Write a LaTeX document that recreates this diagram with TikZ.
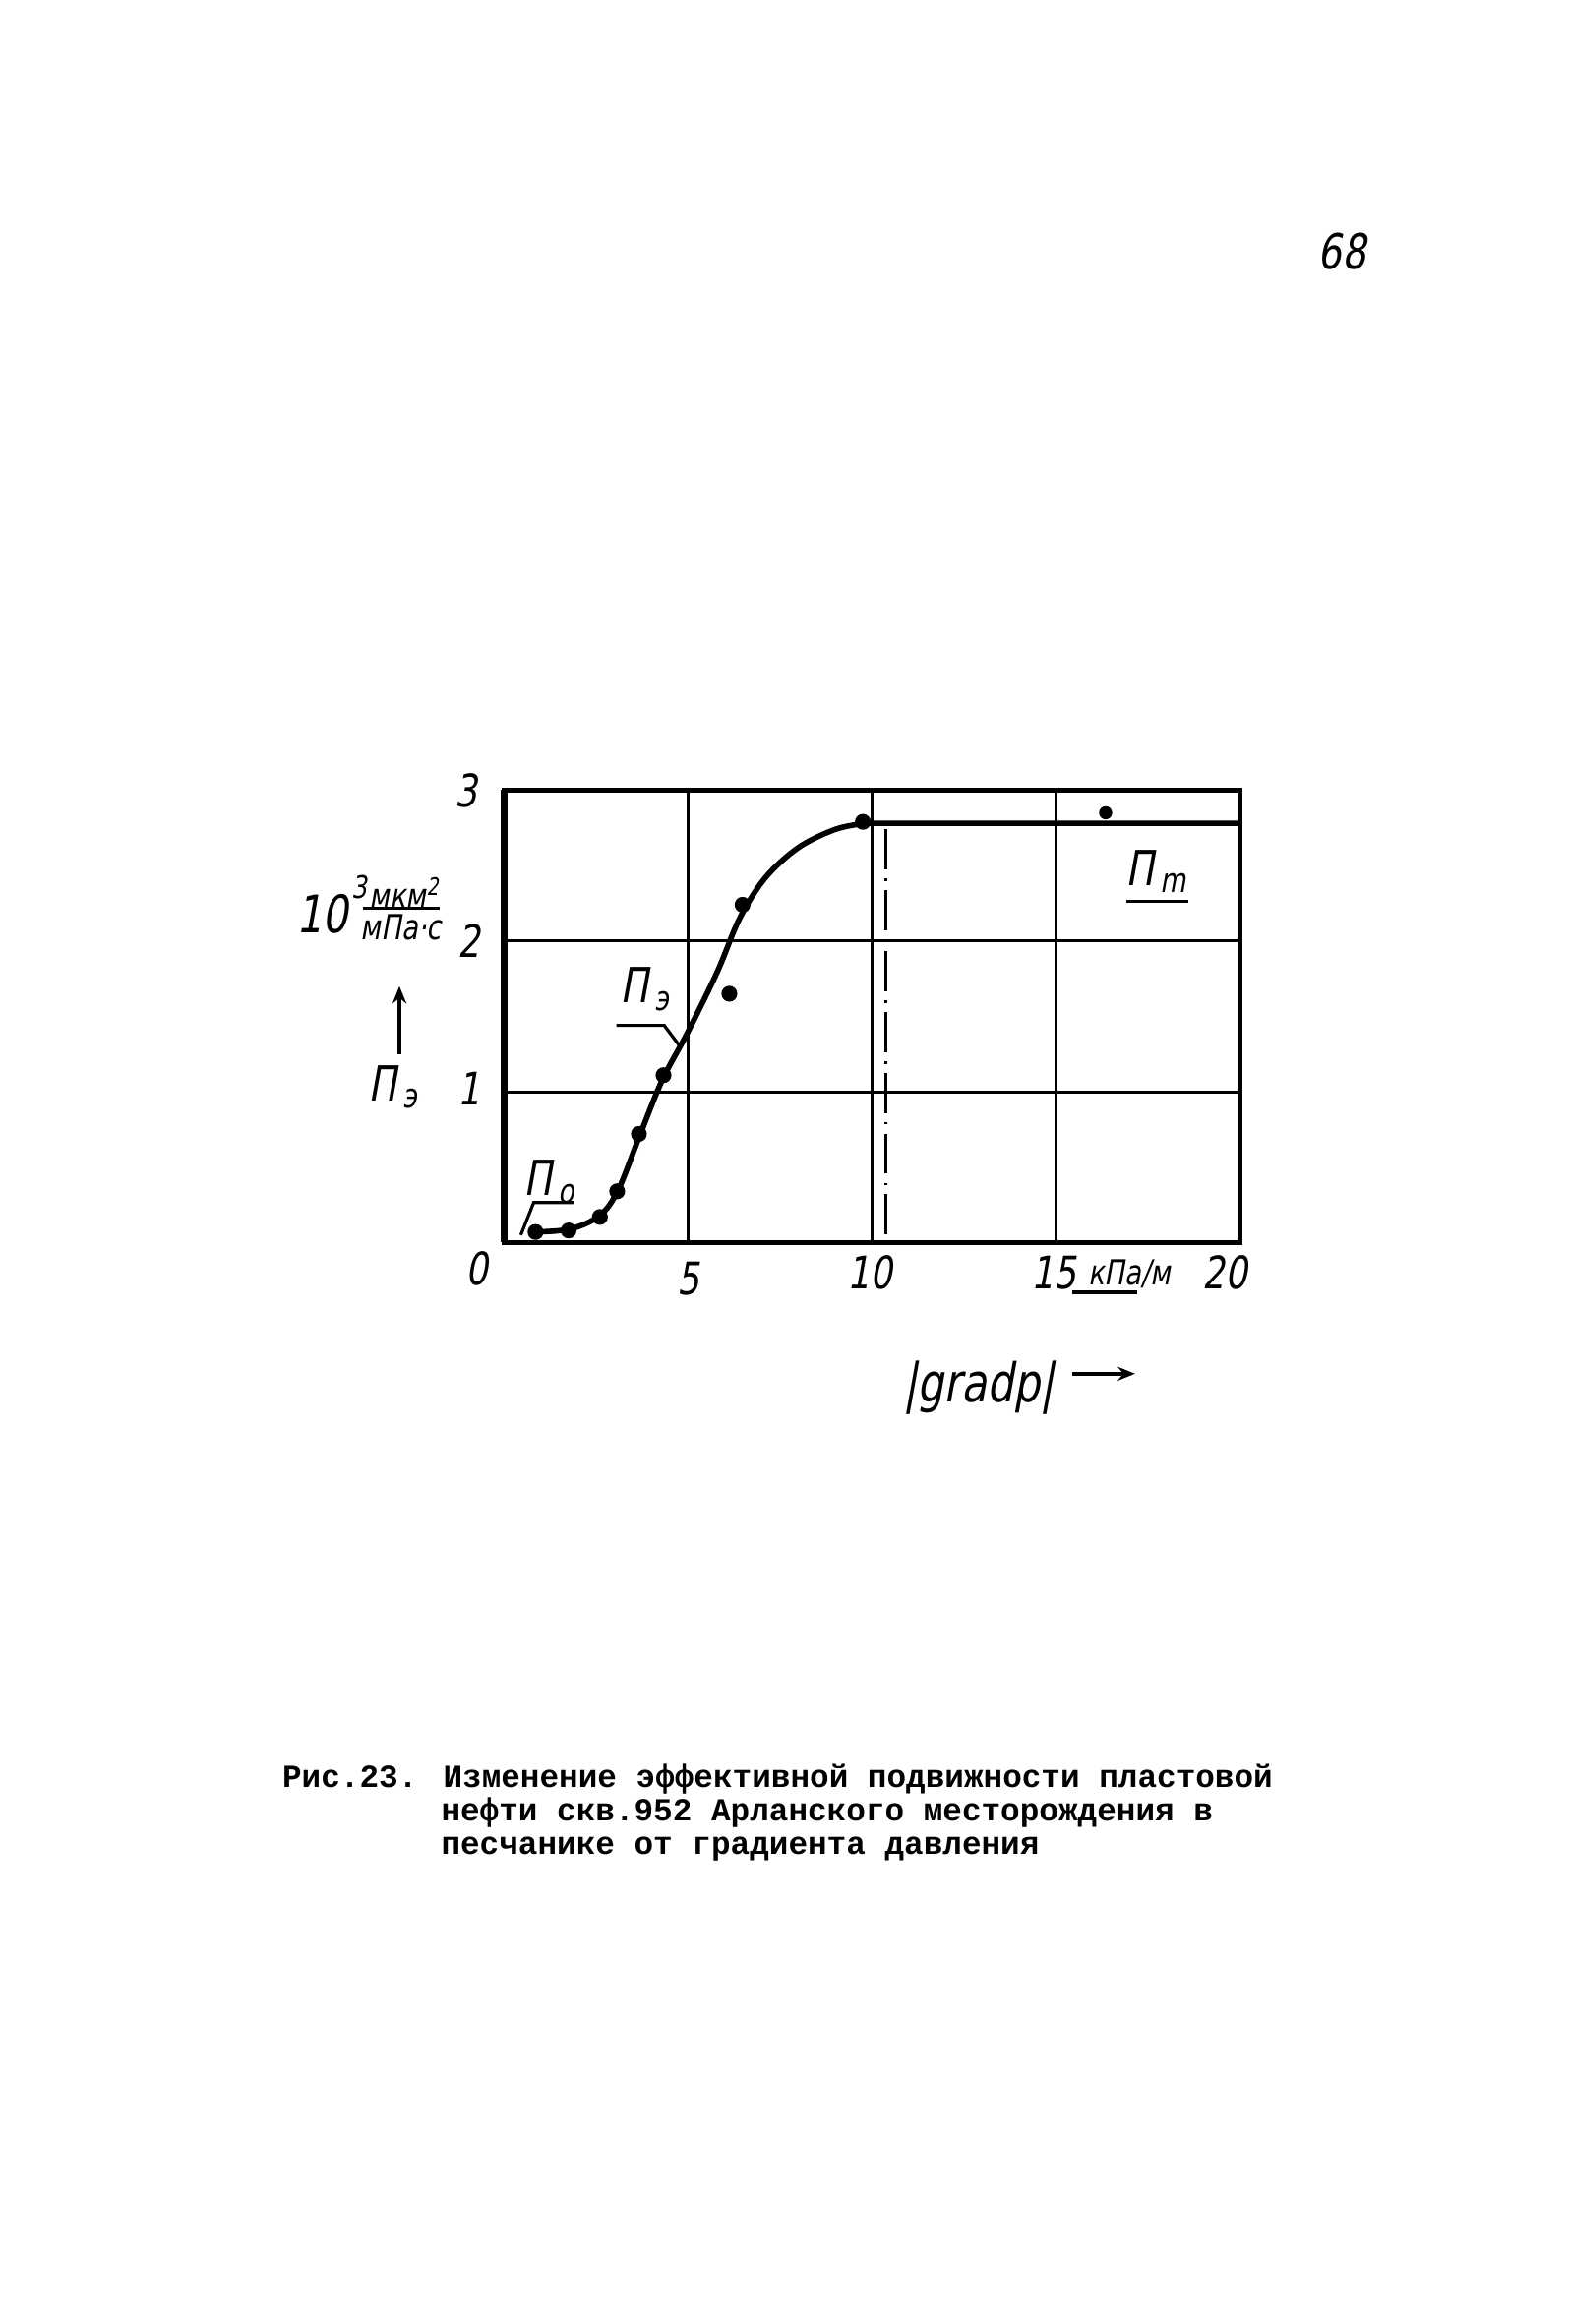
\documentclass[tikz,border=0pt]{standalone}
\usepackage{fontspec}
\newfontfamily\hand[FakeSlant=0.18,FakeStretch=0.78]{DejaVu Sans}
\newfontfamily\typew{Liberation Mono}
\usetikzlibrary{arrows.meta}
\tikzset{
  gridline/.style={line width=0.9pt},
  framebox/.style={line width=1.4pt},
  curveline/.style={line width=1.6pt, line cap=round, line join=round},
  dashdot/.style={line width=0.9pt, dash pattern=on 11.6pt off 2.6pt on 0.8pt off 2.6pt},
  datapt/.style={fill=black, circle, inner sep=0pt, minimum size=4.6pt},
  leader/.style={line width=0.9pt},
  lbl/.style={font=\hand\fontsize{13}{13}\selectfont, inner sep=0pt},
  caption/.style={font=\typew\bfseries\fontsize{9.3}{9.6}\selectfont, inner sep=0pt, anchor=base west},
}
\newcommand{\Psub}[1]{П\kern1.8pt\textsubscript{#1}}
\begin{document}
\begin{tikzpicture}
\useasboundingbox (0,0) rectangle (15.95,-23.63);
\fill[white] (0,0) rectangle (15.95,-23.63);

\node[lbl, font=\hand\fontsize{14}{14}\selectfont] (pg) at (13.64,-2.56) {68};

\begin{scope}[shift={(5.126,-12.634)}, x=0.3739cm, y=1.5332cm]
  % grid
  \draw[gridline] (5,0) -- (5,3) (10,0) -- (10,3) (15,0) -- (15,3)
                  (0,1) -- (20,1) (0,2) -- (20,2);
  \draw[framebox] (0,0) rectangle (20,3);
  \draw[line width=1.9pt] (0,0) -- (0,3);
  % dash-dot line
  \coordinate (ddtop) at (10.37,2.74);
  \coordinate (ddbot) at (10.37,0);
  \draw[dashdot] (ddtop) -- (ddbot);
  % curve
  \draw[curveline] plot[smooth, tension=0.55] coordinates {
     (0.85,0.07) (1.8,0.09) (2.6,0.18) (3.1,0.35) (3.7,0.72) (4.3,1.08)
     (5.0,1.40) (5.8,1.80) (6.4,2.15) (7.1,2.42) (8.0,2.62) (9.0,2.74) (9.8,2.78)}
     -- (20,2.78);
  % data points
  \foreach \px/\py [count=\i] in {0.85/0.07, 1.75/0.08, 2.6/0.17, 3.07/0.34, 3.66/0.72,
      4.33/1.11, 6.48/2.24, 6.12/1.65, 9.75/2.79}
     \node[datapt] (p\i) at (\px,\py) {};
  \node[datapt, minimum size=3.8pt] (p10) at (16.35,2.85) {};

  % tick labels
  \node[lbl] (y3) at (-1.05,3.0) {3};
  \node[lbl] (y2) at (-0.95,2.0) {2};
  \node[lbl] (y1) at (-0.95,1.02) {1};
  \node[lbl] (x0) at (-0.75,-0.17) {0};
  \node[lbl] (x5) at (5.0,-0.24) {5};
  \node[lbl] (x10) at (9.95,-0.2) {10};
  \node[lbl] (x15) at (14.95,-0.2) {15};
  \node[lbl, font=\hand\fontsize{10}{10}\selectfont] (unitx) at (17.0,-0.21) {кПа/м};
  \coordinate (ulA) at (15.45,-0.33);
  \coordinate (ulB) at (17.2,-0.33);
  \draw[leader] (ulA) -- (ulB);
  \node[lbl] (x20) at (19.6,-0.2) {20};

  % axis title
  \node[lbl, font=\hand\fontsize{15.5}{15.5}\selectfont] (gradp) at (12.9,-0.96) {|gradp|};
  \coordinate (gaA) at (15.45,-0.87);
  \coordinate (gaB) at (17.15,-0.87);
  \draw[line width=1.1pt, -{Stealth[length=5pt,width=4pt]}] (gaA) -- (gaB);

  % y unit
  \node[lbl, font=\hand\fontsize{15}{15}\selectfont] (ten) at (-4.95,2.18) {10};
  \node[lbl, font=\hand\fontsize{9}{9}\selectfont] (sup3) at (-3.95,2.36) {3};
  \node[lbl, font=\hand\fontsize{10}{10}\selectfont] (num) at (-2.7,2.32) {мкм\textsuperscript{2}};
  \coordinate (fbA) at (-3.85,2.215);
  \coordinate (fbB) at (-1.75,2.215);
  \draw[leader] (fbA) -- (fbB);
  \node[lbl, font=\hand\fontsize{10}{10}\selectfont] (den) at (-2.8,2.09) {мПа·с};
  \coordinate (yaA) at (-2.85,1.25);
  \coordinate (yaB) at (-2.85,1.70);
  \draw[line width=1.1pt, -{Stealth[length=5pt,width=4pt]}] (yaA) -- (yaB);
  \node[lbl, font=\hand\fontsize{14}{14}\selectfont] (pe) at (-3.0,1.03) {\Psub{э}};

  % curve labels
  \node[lbl, font=\hand\fontsize{14}{14}\selectfont] (lpe) at (3.85,1.68) {\Psub{э}};
  \coordinate (le1) at (3.05,1.44);
  \coordinate (le2) at (4.35,1.44);
  \coordinate (le3) at (4.75,1.31);
  \draw[leader] (le1) -- (le2) -- (le3);

  \node[lbl, font=\hand\fontsize{14}{14}\selectfont] (lpo) at (1.25,0.4) {\Psub{о}};
  \coordinate (lo1) at (1.9,0.265);
  \coordinate (lo2) at (0.8,0.265);
  \coordinate (lo3) at (0.45,0.05);
  \draw[leader] (lo1) -- (lo2) -- (lo3);

  \node[lbl, font=\hand\fontsize{14}{14}\selectfont] (lpm) at (17.75,2.46) {\Psub{m}};
  \coordinate (lm1) at (16.9,2.26);
  \coordinate (lm2) at (18.6,2.26);
  \draw[leader] (lm1) -- (lm2);
\end{scope}

% caption
\node[caption] (cap1) at (2.864,-18.17) {Рис.23. Изменение эффективной подвижности пластовой};
\node[caption] (cap2) at (4.478,-18.51) {нефти скв.952 Арланского месторождения в};
\node[caption] (cap3) at (4.478,-18.85) {песчанике от градиента давления};
\end{tikzpicture}
\end{document}
